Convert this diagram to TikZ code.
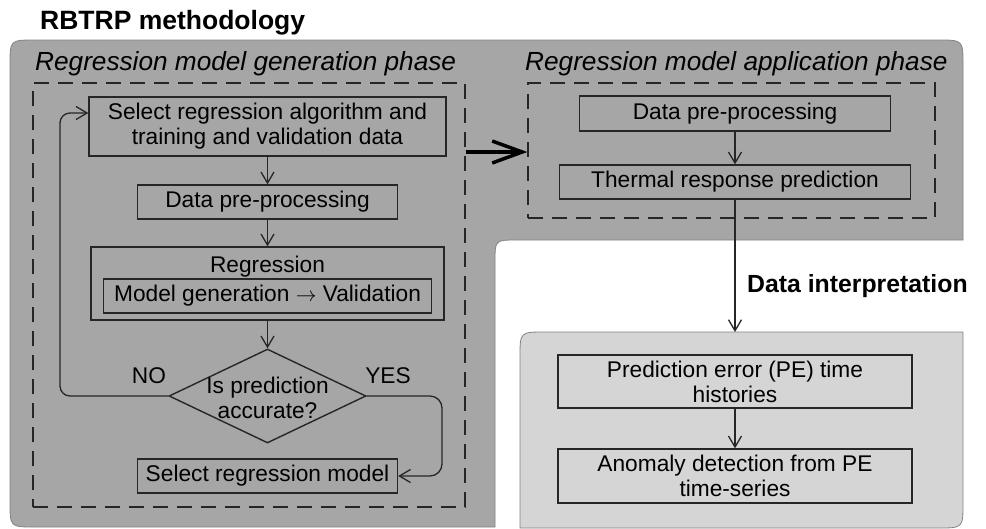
\documentclass[tikz,border=0pt]{standalone}
\usepackage{fontspec}
\setmainfont{Liberation Sans}
\usetikzlibrary{arrows.meta,shapes.geometric}
\definecolor{bgdark}{RGB}{166,166,166}
\definecolor{bglight}{RGB}{213,213,213}
\definecolor{edgegray}{RGB}{130,130,130}
\definecolor{ink}{RGB}{38,38,38}
\begin{document}
\begin{tikzpicture}[x=1pt,y=-1pt,
  txt/.style={font=\fontsize{22.7}{25}\selectfont, text=black},
  box/.style={draw=ink, line width=1.4pt, inner sep=0pt, align=center, txt},
  dashbox/.style={draw=ink, line width=1.4pt, dash pattern=on 15pt off 9pt, inner sep=0pt},
  arr/.style={draw=ink, line width=1.3pt, -{Straight Barb[length=11pt,width=13pt]}},
  bigarr/.style={draw=black, line width=3.5pt, -{Straight Barb[length=30pt,width=22pt]}},
  header/.style={font=\fontsize{26.2}{28}\selectfont\itshape, text=black, inner sep=0pt},
  boldlbl/.style={font=\fontsize{24.8}{28}\selectfont\bfseries, text=black, inner sep=0pt},
  bgshape/.style={draw=edgegray, line width=0.8pt}
]
\useasboundingbox (0,0) rectangle (986,528);

% background shapes
\path[bgshape, fill=bgdark] (495,527) -- (35,527) .. controls (10,527) .. (10,502)
  -- (10,65) .. controls (10,40) .. (35,40) -- (938,40) .. controls (963,40) .. (963,65)
  -- (963,240) -- (517,240) .. controls (495,240) .. (495,262) -- cycle;
\path[bgshape, fill=bglight] (520,528) -- (520,357) .. controls (520,332) .. (545,332)
  -- (963,332) -- (963,503) .. controls (963,528) .. (938,528) -- cycle;
\coordinate (lbtop) at (735,332);

% titles
\node[boldlbl, font=\fontsize{26.5}{28}\selectfont\bfseries, anchor=base west] (title) at (40,29) {RBTRP methodology};
\node[header, anchor=base west] (genhdr) at (35,70) {Regression model generation phase};
\node[header, anchor=base west] (apphdr) at (525,70) {Regression model application phase};
\node[boldlbl, anchor=base west] (interp) at (747,292) {Data interpretation};

% dashed phase boxes
\node[dashbox, minimum width=432pt, minimum height=424pt] (gen) at (249,295) {};
\node[dashbox, minimum width=407pt, minimum height=135pt] (app) at (731.5,150.5) {};

% generation phase
\node[box, minimum width=357pt, minimum height=59pt] (b1) at (267.5,126.5)
  {Select regression algorithm and\\training and validation data};
\node[box, minimum width=260pt, minimum height=34pt] (b2) at (267.5,202) {Data pre-processing};
\node[box, minimum width=353pt, minimum height=73pt] (b3) at (267.5,283.5) {};
\node[txt, inner sep=0pt, anchor=base] (b3lbl) at (267.5,272) {Regression};
\node[box, minimum width=328pt, minimum height=34pt] (b3in) at (267.5,296)
  {Model generation $\rightarrow$ Validation};
\node[draw=ink, line width=1.4pt, diamond, minimum width=197pt, minimum height=94pt, inner sep=0pt] (dia) at (267.5,396) {};
\node[txt, align=center, inner sep=0pt] (dialbl) at (267.5,397.5) {Is prediction\\accurate?};
\node[box, minimum width=260pt, minimum height=34pt] (sel) at (267.5,476) {Select regression model};
\node[txt, inner sep=0pt, anchor=base] (no) at (149,383) {NO};
\node[txt, inner sep=0pt, anchor=base] (yes) at (388,383) {YES};

\draw[arr] (b1) -- (b2);
\draw[arr] (b2) -- (b3);
\draw[arr] (b3) -- (dia);
\draw[arr, rounded corners=10pt] (dia.west) -- (60,396) -- (60,113) -- (b1.west |- 0,113);
\draw[arr, rounded corners=12pt] (dia.east) -- (442,396) -- (442,476) -- (sel.east);

% application phase
\node[box, minimum width=311pt, minimum height=35pt] (a1) at (735,113.5) {Data pre-processing};
\node[box, minimum width=351pt, minimum height=34pt] (a2) at (735,182) {Thermal response prediction};
\draw[arr] (a1) -- (a2);

\draw[bigarr] (gen.east |- 0,152) -- (app.west |- 0,152);

% interpretation
\draw[arr] (a2.south) -- (lbtop);
\node[box, minimum width=354pt, minimum height=53pt] (pe) at (735,381.5)
  {Prediction error (PE) time\\histories};
\node[box, minimum width=354pt, minimum height=54pt] (an) at (735,476)
  {Anomaly detection from PE\\time-series};
\draw[arr] (pe) -- (an);
\end{tikzpicture}
\end{document}
